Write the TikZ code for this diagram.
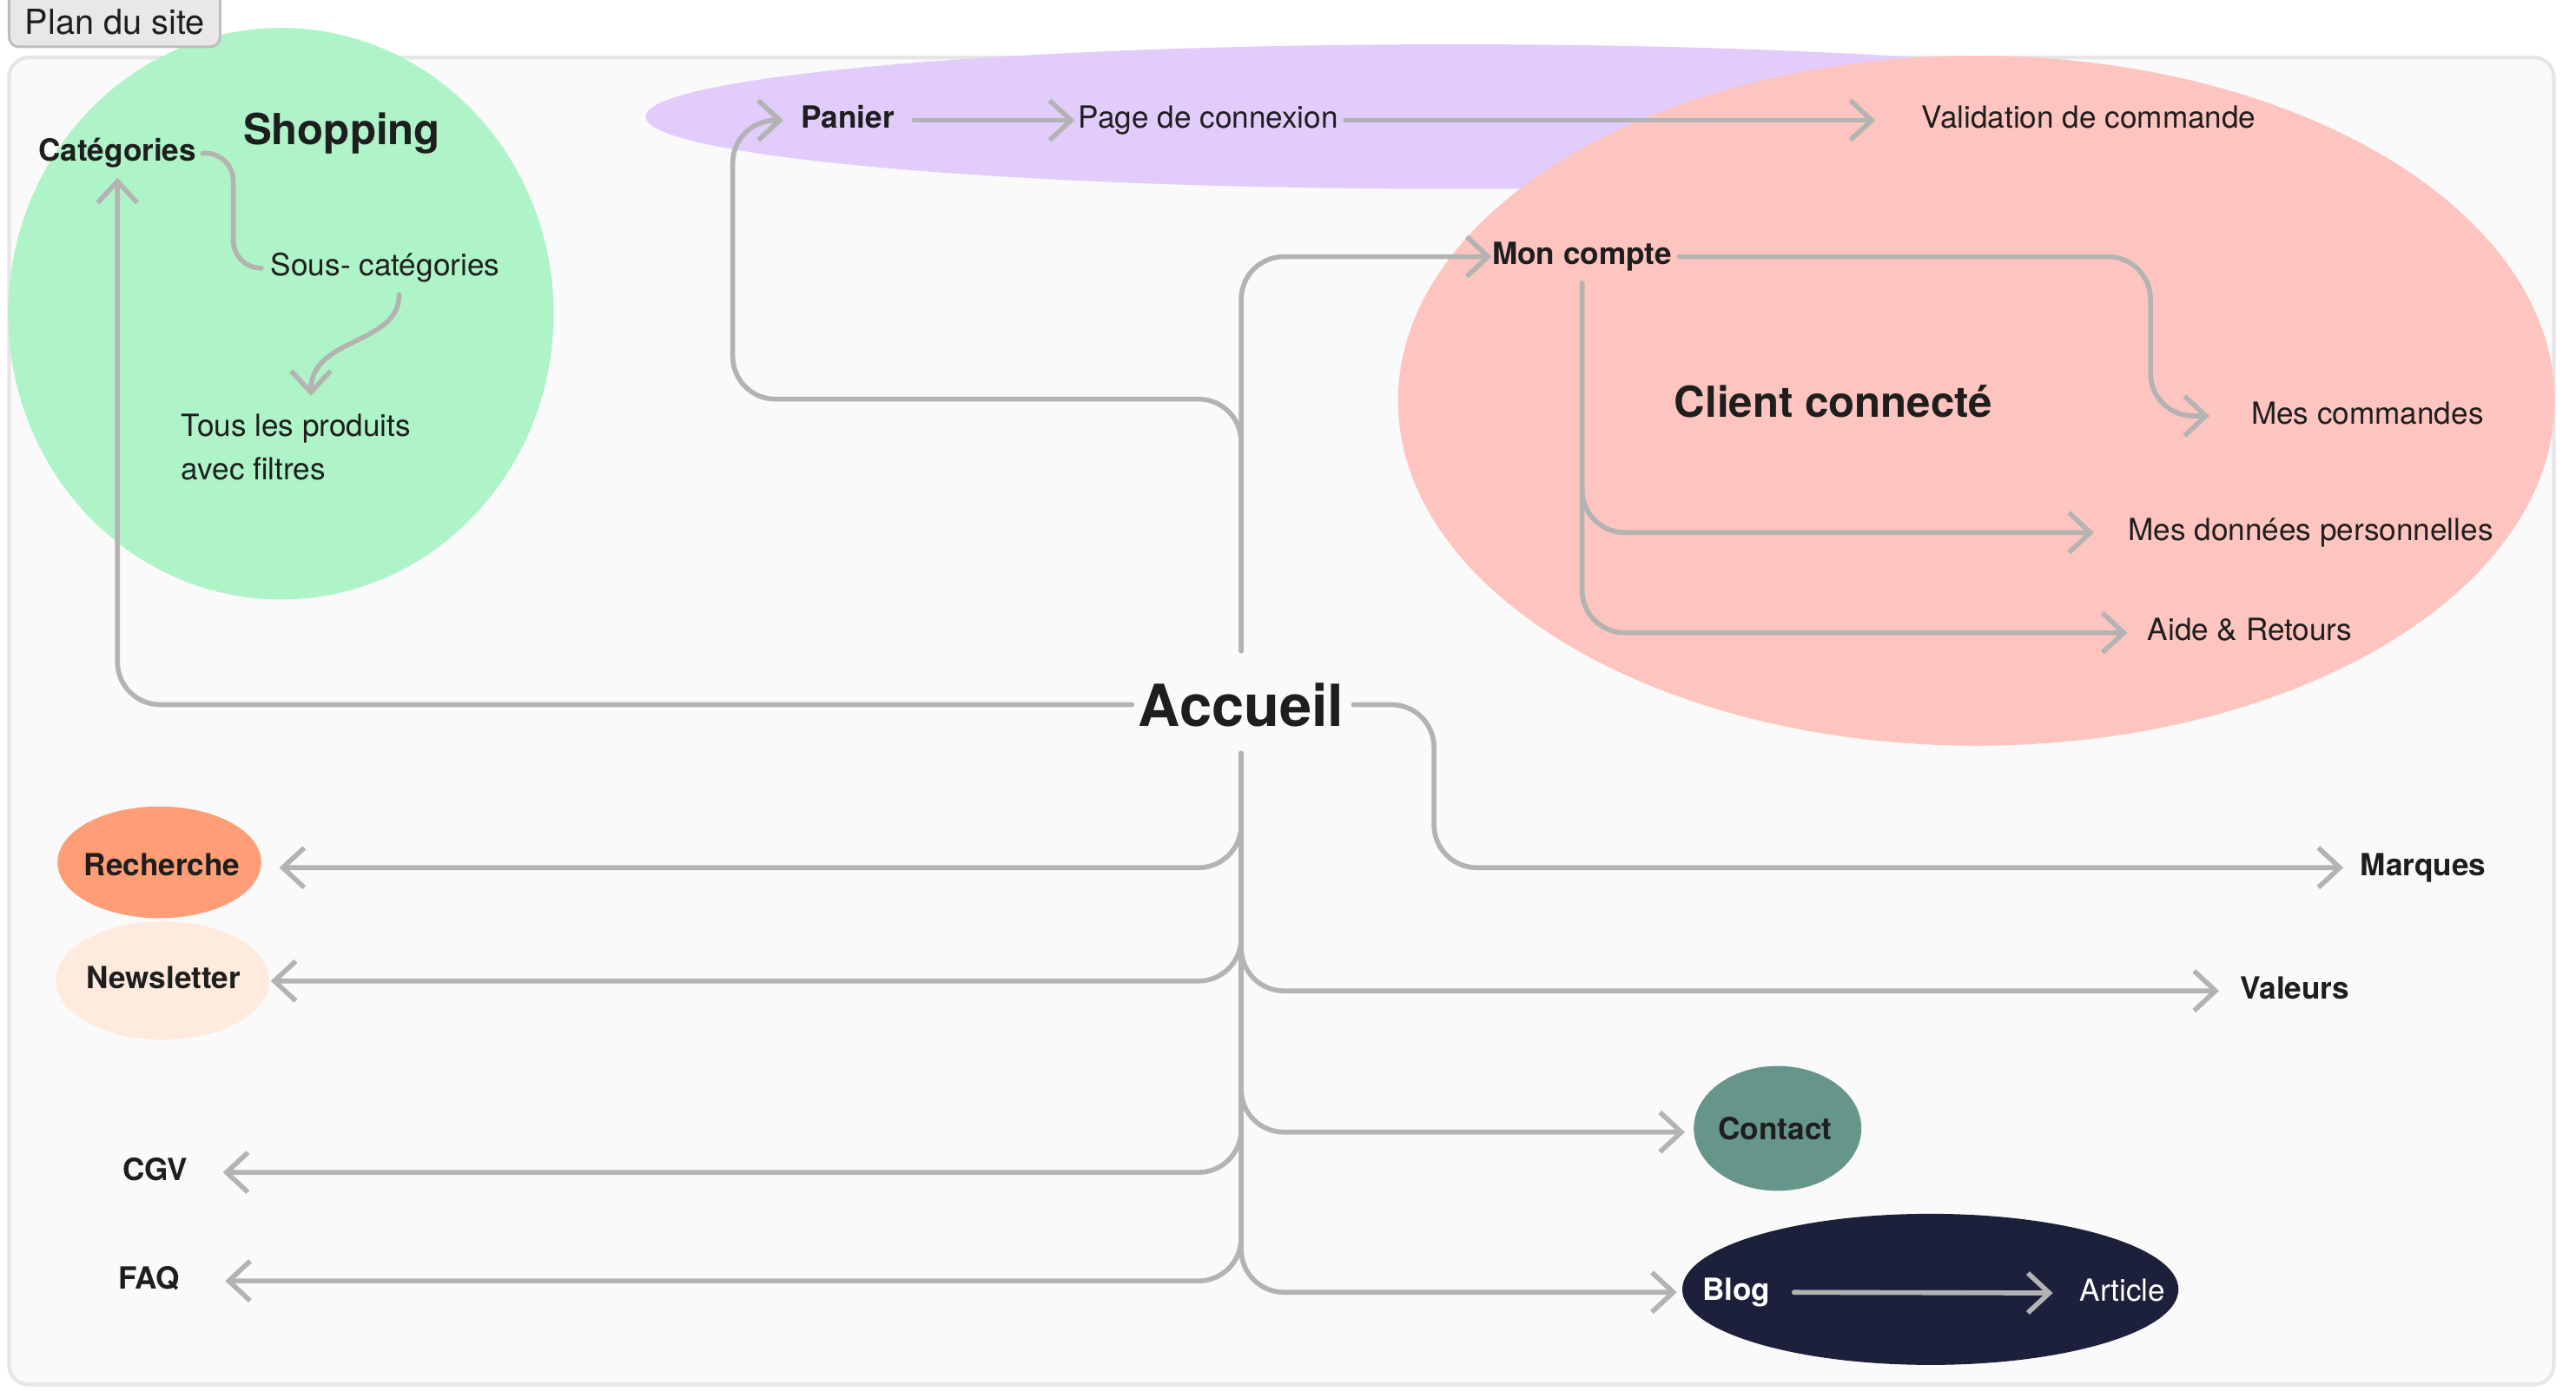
\documentclass[tikz,border=0pt]{standalone}
\usepackage{fontspec}
\setmainfont{TeX Gyre Heros}
\usetikzlibrary{arrows.meta}

\definecolor{ink}{HTML}{1E1E1E}
\definecolor{linkgray}{HTML}{B3B3B3}
\definecolor{framebg}{HTML}{FAFAFA}
\definecolor{frameline}{HTML}{E6E6E6}
\definecolor{tabfill}{HTML}{E8E8E8}
\definecolor{tabline}{HTML}{BDBDBD}
\definecolor{shopgreen}{HTML}{AEF4C8}
\definecolor{cartpurple}{HTML}{E1CCFB}
\definecolor{clientpink}{HTML}{FEC5C0}
\definecolor{searchorange}{HTML}{FF9D77}
\definecolor{newspeach}{HTML}{FFEBDD}
\definecolor{contactteal}{HTML}{66958A}
\definecolor{blognavy}{HTML}{1C203B}

\newlength{\gunit}
\setlength{\gunit}{0.18916mm}
\newcommand{\fsz}[2]{\fontsize{#1}{#2}\selectfont}

\tikzset{
  link/.style={draw=linkgray, line width=1.6pt, line cap=round, rounded corners=26\gunit,
    -{Straight Barb[length=7pt, width=13pt]}},
  plain/.style={draw=linkgray, line width=1.6pt, line cap=round, rounded corners=17\gunit},
  txt/.style={inner sep=0pt, text=ink, font=\fsz{10}{12}},
  lbl/.style={txt, anchor=base, text height=7.2pt, text depth=2.1pt},
  lblb/.style={lbl, font=\fsz{10}{12}\bfseries},
  title/.style={txt, anchor=base, font=\fsz{14}{17}\bfseries},
}

\begin{document}
\begin{tikzpicture}[x=0.18916mm, y=-0.18916mm]
\useasboundingbox (0,0) rectangle (1568,851);
% fond et cadre
\fill[white] (0,0) rectangle (1568,851);
\draw[frameline, fill=framebg, line width=1.2pt, rounded corners=12\gunit] (5.5,35) rectangle (1554.5,843);

% zones
\fill[shopgreen] (171,191) ellipse [x radius=166, y radius=174];
\fill[cartpurple] (885,71) ellipse [x radius=492, y radius=44];
\fill[clientpink] (1203,244) ellipse [x radius=352, y radius=210];
\fill[searchorange] (97,525) ellipse [x radius=62, y radius=34];
\fill[newspeach] (99,597) ellipse [x radius=65, y radius=36];
\fill[contactteal] (1082,687) ellipse [x radius=51, y radius=38];
\fill[blognavy] (1175,785) ellipse [x radius=151, y radius=46];

% onglet
\draw[tabline, fill=tabfill, line width=0.8pt, rounded corners=6\gunit] (5.5,-12) rectangle (134,28.5);
\node[txt, anchor=base, font=\fsz{11.3}{13}] (plan) at (70,21) {Plan du site};

% pages
\node[title] (shop) at (208,88) {Shopping};
\node[lblb] (cat) at (71.5,98) {Catégories};
\node[lbl] (sous) at (234.5,168) {Sous- catégories};
\node[txt, anchor=north west, align=left, font=\fsz{10}{14}] (tous) at (110,252) {Tous les produits\\avec filtres};

\node[lblb] (pan) at (516,78) {Panier};
\node[lbl] (page) at (735.5,78) {Page de connexion};
\node[lbl] (valid) at (1271.5,78) {Validation de commande};

\node[lblb] (mc) at (963,161) {Mon compte};
\node[title] (client) at (1116,254) {Client connecté};
\node[lbl] (mcom) at (1441,258) {Mes commandes};
\node[lbl] (mdon) at (1406.5,329) {Mes données personnelles};
\node[lbl] (aide) at (1369.5,390) {Aide \& Retours};

\node[title, font=\fsz{19}{22}\bfseries] (acc) at (755.5,442) {Accueil};

\node[lblb] (marq) at (1475,533) {Marques};
\node[lblb] (val) at (1397,608) {Valeurs};
\node[lblb] (rech) at (98.6,533) {Recherche};
\node[lblb] (news) at (99.5,602) {Newsletter};
\node[lblb] (cgv) at (94.5,718.5) {CGV};
\node[lblb] (faq) at (90.6,784.6) {FAQ};
\node[lblb] (cont) at (1080.6,694) {Contact};
\node[lblb, text=white] (blog) at (1057,791.5) {Blog};
\node[lbl, text=white] (art) at (1292,792) {Article};

\coordinate (panbend) at (446,243);
\coordinate (cmdbend) at (1309,253.25);
\coordinate (catbend) at (142,163.25);

% liens depuis l'accueil
\draw[link, shorten <=19\gunit] (acc.north) |- (mc.west);
\draw[link, shorten <=19\gunit, shorten >=10.5\gunit] (acc.north) |- (panbend) |- (pan.west);
\draw[link, shorten <=3.5\gunit, shorten >=6\gunit] (acc.west) -| (cat.south);
\draw[link, shorten <=5.5\gunit, shorten >=10\gunit] (acc.east) -- ++(54.5,0) |- (marq.west);
\draw[link, shorten <=16\gunit, shorten >=23.5\gunit] (acc.south) |- (rech.east);
\draw[link, shorten <=16\gunit, shorten >=18\gunit] (acc.south) |- (news.east);
\draw[link, shorten <=16\gunit, shorten >=21\gunit] (acc.south) |- (cgv.east);
\draw[link, shorten <=16\gunit, shorten >=27.4\gunit] (acc.south) |- (faq.east);
\draw[link, shorten <=16\gunit, shorten >=12.7\gunit] (acc.south) |- (val.west);
\draw[link, shorten <=16\gunit, shorten >=20\gunit] (acc.south) |- (cont.west);
\draw[link, shorten <=16\gunit, shorten >=15.3\gunit] (acc.south) |- (blog.west);

% panier
\draw[link, shorten <=11.6\gunit, shorten >=2\gunit] (pan.east) -- (page.west);
\draw[link, shorten <=4\gunit, shorten >=28\gunit] (page.east) -- (valid.west);

% client connecte
\draw[link, shorten <=4\gunit, shorten >=25\gunit] (mc.east) -| (cmdbend) -- (mcom.west);
\draw[link, shorten <=7\gunit, shorten >=20.5\gunit] (mc.south) |- (mdon.west);
\draw[link, shorten <=7\gunit, shorten >=12\gunit] (mc.south) |- (aide.west);

% shopping
\draw[plain, shorten <=3.5\gunit, shorten >=5.5\gunit] (cat.east) -| (catbend) -- (sous.west);
\draw[link, rounded corners=0pt] ([xshift=8.5\gunit, yshift=-7\gunit]sous.south) .. controls +(0,31) and +(0,-36) .. ([xshift=9\gunit, yshift=11\gunit]tous.north);

% blog
\draw[link, shorten <=14\gunit, shorten >=16\gunit] (blog.east) -- (art.west);
\end{tikzpicture}
\end{document}
